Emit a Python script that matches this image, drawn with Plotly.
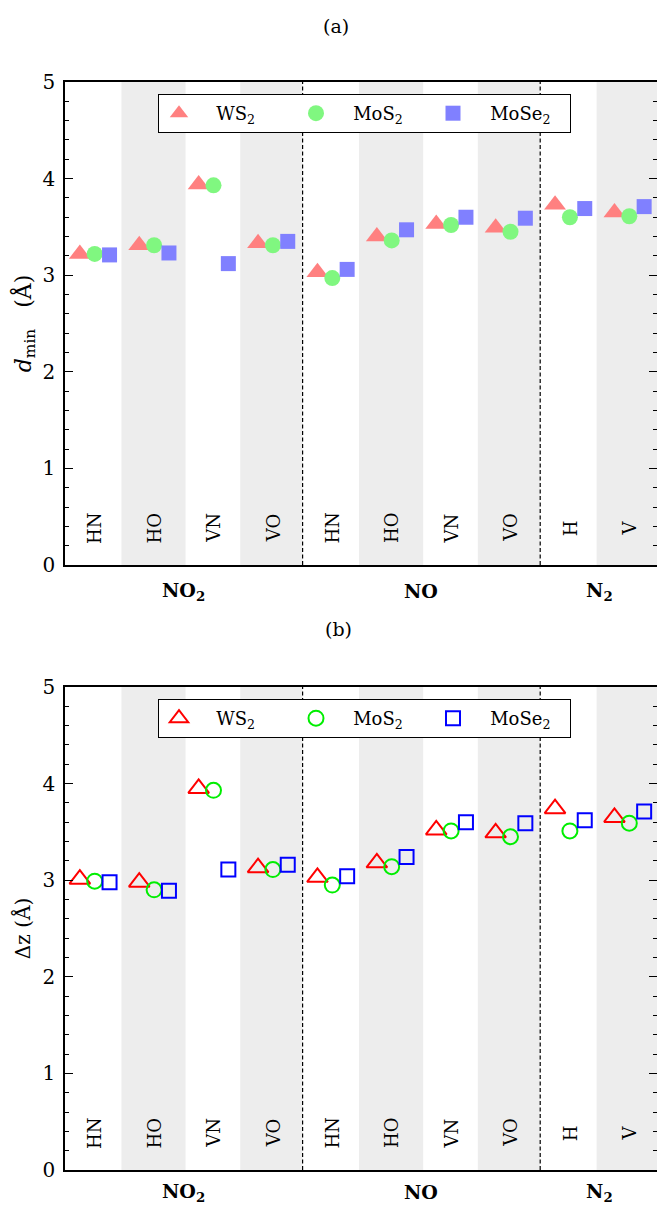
import numpy as np
import plotly.graph_objects as go

# ---------------- data ----------------
categories = ["HN", "HO", "VN", "VO", "HN", "HO", "VN", "VO", "H", "V"]
groups = ["NO<sub>2</sub>", "NO", "N<sub>2</sub>"]
group_sizes = [4, 4, 2]
materials = ["WS<sub>2</sub>", "MoS<sub>2</sub>", "MoSe<sub>2</sub>"]

dmin_WS2 = [3.22, 3.31, 3.94, 3.33, 3.03, 3.40, 3.53, 3.49, 3.73, 3.65]
dmin_MoS2 = [3.22, 3.31, 3.93, 3.31, 2.97, 3.36, 3.52, 3.45, 3.60, 3.61]
dmin_MoSe2 = [3.21, 3.23, 3.12, 3.35, 3.06, 3.47, 3.60, 3.59, 3.69, 3.71]

dz_WS2 = [3.01, 2.98, 3.95, 3.13, 3.03, 3.18, 3.52, 3.49, 3.74, 3.65]
dz_MoS2 = [2.99, 2.90, 3.93, 3.11, 2.95, 3.14, 3.51, 3.45, 3.51, 3.59]
dz_MoSe2 = [2.98, 2.89, 3.11, 3.16, 3.04, 3.24, 3.60, 3.59, 3.62, 3.71]

y_ticks = [0, 1, 2, 3, 4, 5]

# ---------------- style ----------------
FONT = "DejaVu Serif"
W, H = 657, 1205
ML, MR, MT, MB = 65, 0, 82, 35
PW = W - ML - MR
PH = H - MT - MB

def px_x(p):
    return (p - ML) / PW

def px_y(p):
    return (H - MB - p) / PH

top_dom = [px_y(565), 1.0]
bot_dom = [0.0, px_y(687)]

idx = np.arange(len(categories))
offsets = [-0.25, 0.0, 0.25]

fig = go.Figure()

top_sets = [dmin_WS2, dmin_MoS2, dmin_MoSe2]
bot_sets = [dz_WS2, dz_MoS2, dz_MoSe2]
top_sym = ["triangle-up", "circle", "square"]
top_size = [19, 16, 15]
top_col = ["#ff8080", "#80f780", "#8080ff"]
bot_sym = ["triangle-up-open", "circle-open", "square-open"]
bot_size = [18, 15, 14]
bot_col = ["#ff0000", "#00ee00", "#0000ff"]

NB = "\u00a0"
for k in range(3):
    fig.add_trace(go.Scatter(
        x=idx + offsets[k], y=top_sets[k], mode="markers",
        name=NB * 3 + materials[k],
        marker=dict(symbol=top_sym[k], size=top_size[k], color=top_col[k], line=dict(width=0)),
        xaxis="x", yaxis="y", legend="legend"))
for k in range(3):
    fig.add_trace(go.Scatter(
        x=idx + offsets[k], y=bot_sets[k], mode="markers",
        name=NB * 3 + materials[k],
        marker=dict(symbol=bot_sym[k], size=bot_size[k], color=bot_col[k], line=dict(width=2, color=bot_col[k])),
        xaxis="x2", yaxis="y2", legend="legend2"))

# dummy traces for right-side tick axes
fig.add_trace(go.Scatter(x=[0], y=[None], xaxis="x", yaxis="y3", showlegend=False, hoverinfo="skip"))
fig.add_trace(go.Scatter(x=[0], y=[None], xaxis="x2", yaxis="y4", showlegend=False, hoverinfo="skip"))

# ---------------- shapes: stripes and separators ----------------
bounds = np.cumsum([0] + group_sizes) - 0.5
shapes = []
for xr, yr in (("x", "y domain"), ("x2", "y2 domain")):
    for i in range(len(categories)):
        if i % 2 == 1:
            x0 = i - 0.55
            x1 = i + 0.53
            for b in bounds[1:-1]:
                if x0 < b < x1:
                    x1 = b
            shapes.append(dict(type="rect", xref=xr, yref=yr, x0=x0, x1=x1, y0=0, y1=1,
                               fillcolor="#ededed", line=dict(width=0), layer="below"))
    for b in bounds[1:-1]:
        shapes.append(dict(type="line", xref=xr, yref=yr, x0=b, x1=b, y0=0, y1=1,
                           line=dict(color="black", width=1.2, dash="4px,2.5px"), layer="above"))
fig.update_layout(shapes=shapes)

# ---------------- annotations ----------------
ann = []
for xr, yr in (("x", "y"), ("x2", "y2")):
    for i, c in enumerate(categories):
        ann.append(dict(x=i, y=0.38, xref=xr, yref=yr, text=c, textangle=-90,
                        xanchor="center", yanchor="middle",
                        showarrow=False, font=dict(family=FONT, size=18, color="black")))
centers = []
start = 0
for g in group_sizes:
    centers.append(start + (g - 1) / 2)
    start += g
for xr, ypos in (("x", px_y(591)), ("x2", px_y(1192))):
    for gname, cx in zip(groups, centers):
        ann.append(dict(x=cx, y=ypos, xref=xr, yref="paper", text="<b>" + gname + "</b>",
                        xanchor="center", yanchor="middle",
                        showarrow=False, font=dict(family=FONT, size=19, color="black")))
ann.append(dict(x=px_x(336), y=px_y(26), xref="paper", yref="paper", text="(a)",
                xanchor="center", yanchor="middle",
                showarrow=False, font=dict(family=FONT, size=19, color="black")))
ann.append(dict(x=px_x(338), y=px_y(629), xref="paper", yref="paper", text="(b)",
                xanchor="center", yanchor="middle",
                showarrow=False, font=dict(family=FONT, size=19, color="black")))
fig.update_layout(annotations=ann)

# ---------------- axes ----------------
xrange = [-0.5, -0.5 + PW / 59.4]
xcommon = dict(range=xrange, showticklabels=False, ticks="", showline=True, mirror=True,
               linecolor="black", linewidth=1.6, showgrid=False, zeroline=False, domain=[0, 1])
ycommon = dict(range=[0, 5], tickvals=y_ticks, ticks="inside", ticklen=8, tickwidth=1,
               tickcolor="black", showline=True, linecolor="black", linewidth=1.6,
               showgrid=False, zeroline=False, ticklabelstandoff=4,
               tickfont=dict(family=FONT, size=20, color="black"),
               minor=dict(ticks="inside", ticklen=4, dtick=0.2, tick0=0, tickcolor="black", showgrid=False))
yright = dict(range=[0, 5], tickvals=y_ticks, ticks="inside", ticklen=8, tickwidth=1,
              tickcolor="black", showline=False, showgrid=False, zeroline=False,
              showticklabels=False, side="right",
              minor=dict(ticks="inside", ticklen=4, dtick=0.2, tick0=0, tickcolor="black", showgrid=False))

fig.update_layout(
    xaxis=dict(xcommon, anchor="y"),
    yaxis=dict(ycommon, domain=top_dom, anchor="x",
               title=dict(text="<i>d</i><sub>min</sub>" + NB * 3 + "(Å)", standoff=5,
                          font=dict(family=FONT, size=22, color="black"))),
    xaxis2=dict(xcommon, anchor="y2"),
    yaxis2=dict(ycommon, domain=bot_dom, anchor="x2",
                title=dict(text="Δz" + NB + "(Å)", standoff=6,
                           font=dict(family=FONT, size=20, color="black"))),
    yaxis3=dict(yright, overlaying="y", anchor="x"),
    yaxis4=dict(yright, overlaying="y2", anchor="x2"),
)

legcommon = dict(orientation="h", xanchor="left", yanchor="top", bgcolor="white",
                 bordercolor="black", borderwidth=1,
                 font=dict(family=FONT, size=18, color="black"),
                 entrywidth=92, entrywidthmode="pixels", tracegroupgap=0)
fig.update_layout(
    legend=dict(legcommon, x=px_x(158), y=px_y(94)),
    legend2=dict(legcommon, x=px_x(158), y=px_y(699)),
)

fig.update_layout(width=W, height=H, margin=dict(l=ML, r=MR, t=MT, b=MB, autoexpand=False),
                  plot_bgcolor="white", paper_bgcolor="white",
                  font=dict(family=FONT, color="black"))

fig.write_html("out.html", config={"displayModeBar": False},
               post_script="document.body.style.margin='0px';document.body.style.overflow='hidden';")
